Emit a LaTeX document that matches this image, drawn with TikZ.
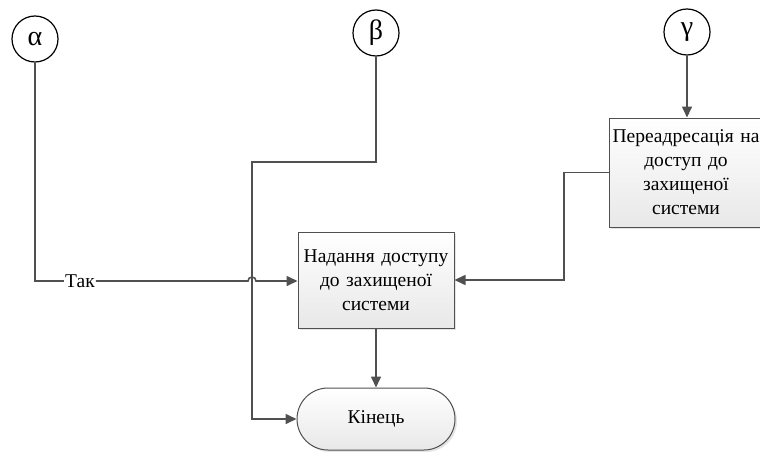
\documentclass[tikz,border=0pt]{standalone}
\usepackage{fontspec}
\setmainfont{Liberation Serif}
\usetikzlibrary{arrows.meta,shadows}
\definecolor{ln}{HTML}{505050}
\tikzset{
  lab/.style={circle,draw=black,line width=1.2pt,minimum size=46pt,inner sep=0pt,font=\fontsize{28}{30}\selectfont},
  proc/.style={rectangle,draw=ln,line width=1pt,top color=white,bottom color=gray!18,
     drop shadow={shadow xshift=2pt,shadow yshift=-2pt,fill=gray!35,opacity=0.6},
     align=center,inner sep=2pt,font=\fontsize{19.5}{24}\selectfont},
  term/.style={rectangle,rounded corners=31pt,draw=ln,line width=1pt,top color=white,bottom color=gray!18,
     drop shadow={shadow xshift=2pt,shadow yshift=-2pt,fill=gray!35,opacity=0.6},
     font=\fontsize{19.5}{24}\selectfont},
  conn/.style={draw=ln,line width=1.6pt},
  arr/.style={conn,-{Triangle[length=11pt,width=10pt]}}
}
\begin{document}
\begin{tikzpicture}[x=1pt,y=-1pt]
\useasboundingbox (0,0) rectangle (760,452);
\clip (0,0) rectangle (760,452);
\node[lab] (a) at (35,39) {α};
\node[lab] (b) at (376,33) {β};
\node[lab] (g) at (687,32) {γ};
\node[proc,minimum width=152pt,minimum height=109pt,text width=150pt] (r) at (686,172.5) {Переадресація на\\доступ до\\захищеної\\системи};
\node[proc,minimum width=156pt,minimum height=96pt,text width=152pt] (n) at (376,280) {Надання доступу\\до захищеної\\системи};
\node[term,minimum width=158pt,minimum height=62pt] (k) at (376,419) {Кінець};
\node[fill=white,inner sep=1pt,font=\fontsize{19.5}{24}\selectfont] (t) at (80,281) {Так};
\coordinate (bc) at (252,162);
\coordinate (rc) at (564,230);
\draw[conn] (a.south) |- (t.west);
\draw[arr] (t.east) -- (248,281) arc[start angle=180,end angle=0,radius=4pt] -- (n.west |- 0,281);
\draw[arr] (b.south) |- (bc) |- (k.west);
\draw[arr] (g.south) -- (g.south |- r.north);
\draw[arr] (r.west) -| (rc) |- (n.east);
\draw[arr] (n.south) -- (k.north);
\end{tikzpicture}
\end{document}
